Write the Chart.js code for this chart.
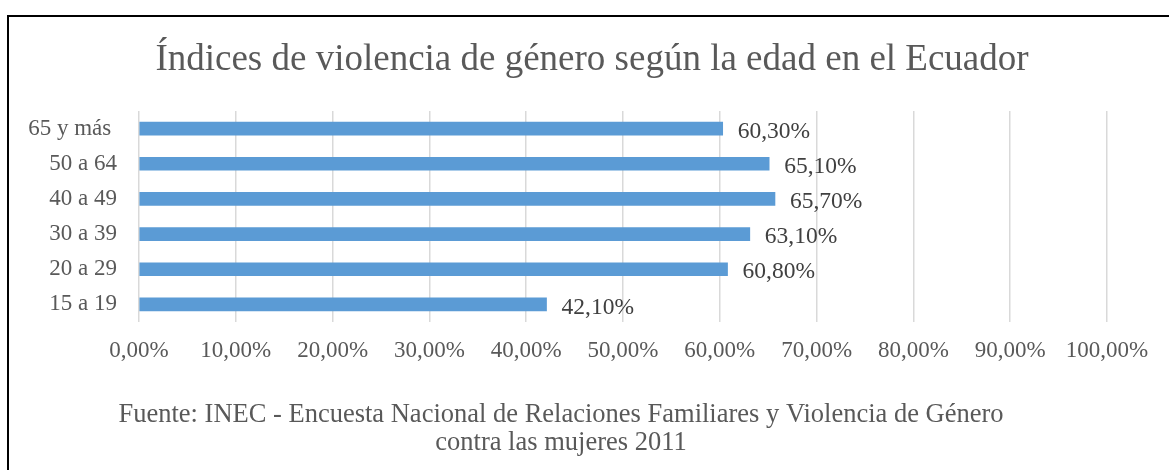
<!DOCTYPE html>
<html>
<head>
<meta charset="utf-8">
<script src="https://cdn.jsdelivr.net/npm/chart.js@4"></script>
<style>
  body { margin: 0; background: #fff; overflow: hidden; }
  #frame { position: absolute; left: 7px; top: 15px; width: 1200px; height: 500px;
           border-left: 2px solid #000; border-top: 2px solid #000; pointer-events: none; }
  canvas { position: absolute; left: 0; top: 0; }
</style>
</head>
<body>
<canvas id="grafico" width="1169" height="470"></canvas>
<div id="frame"></div>
<script>
var edades = ["65 y más ", "50 a 64", "40 a 49", "30 a 39", "20 a 29", "15 a 19"];
var indices = [60.3, 65.1, 65.7, 63.1, 60.8, 42.1];
var ticksX = [0, 10, 20, 30, 40, 50, 60, 70, 80, 90, 100];
var titulo = "Índices de violencia de género según la edad en el Ecuador";
var fuente = ["Fuente: INEC - Encuesta Nacional de Relaciones Familiares y Violencia de Género",
              "contra las mujeres 2011"];

var serif = "'Liberation Serif', 'Times New Roman', serif";

function pct(v) {
  return v.toFixed(2).replace('.', ',') + '%';
}

// etiquetas de valor al final de cada barra
var etiquetas = {
  id: 'etiquetas',
  afterDatasetsDraw: function(chart) {
    var ctx = chart.ctx;
    var meta = chart.getDatasetMeta(0);
    ctx.save();
    ctx.font = "23.5px " + serif;
    ctx.fillStyle = "#404040";
    ctx.textAlign = "left";
    ctx.textBaseline = "middle";
    meta.data.forEach(function(bar, i) {
      ctx.fillText(pct(indices[i]), bar.x + 15, bar.y + 3);
    });
    ctx.restore();
  }
};

// texto de la fuente debajo del eje
var pie = {
  id: 'pie',
  afterDraw: function(chart) {
    var ctx = chart.ctx;
    ctx.save();
    ctx.font = "26.5px " + serif;
    ctx.fillStyle = "#595959";
    ctx.textAlign = "center";
    ctx.textBaseline = "middle";
    fuente.forEach(function(t, i) {
      ctx.fillText(t, 561, 415.5 + i * 28);
    });
    ctx.restore();
  }
};

var ctx = document.getElementById("grafico");
var grafico = new Chart(ctx, {
  type: 'bar',
  data: {
    labels: edades,
    datasets: [{
      data: indices,
      backgroundColor: "#5B9BD5",
      borderWidth: 0,
      barThickness: 13
    }]
  },
  options: {
    indexAxis: 'y',
    responsive: false,
    animation: false,
    layout: { padding: { left: 15, right: 0, top: 0, bottom: 0 } },
    plugins: {
      legend: { display: false },
      tooltip: { enabled: false },
      title: {
        display: true,
        text: titulo,
        color: "#595959",
        font: { family: serif, size: 37, weight: 'normal' },
        padding: { top: 38.4, bottom: 28.2 }
      }
    },
    scales: {
      x: {
        min: 0,
        max: 100,
        afterBuildTicks: function(axis) {
          axis.ticks = ticksX.map(function(v) { return { value: v }; });
        },
        afterFit: function(axis) { axis.height = 148; },
        grid: { color: "#d9d9d9", lineWidth: 1.5, drawTicks: false },
        border: { display: false },
        ticks: {
          color: "#595959",
          font: { family: serif, size: 23 },
          padding: 15,
          maxRotation: 0,
          autoSkip: false,
          callback: function(v) { return pct(v); }
        }
      },
      y: {
        afterFit: function(axis) { axis.width = 124; },
        grid: { display: false, drawTicks: false },
        border: { display: false },
        ticks: {
          color: "#595959",
          font: { family: serif, size: 23 },
          padding: 22
        }
      },
      derecha: {
        type: 'category',
        position: 'right',
        afterFit: function(axis) { axis.width = 62; },
        grid: { display: false, drawTicks: false },
        border: { display: false },
        ticks: { display: false }
      }
    }
  },
  plugins: [etiquetas, pie]
});
</script>
</body>
</html>
